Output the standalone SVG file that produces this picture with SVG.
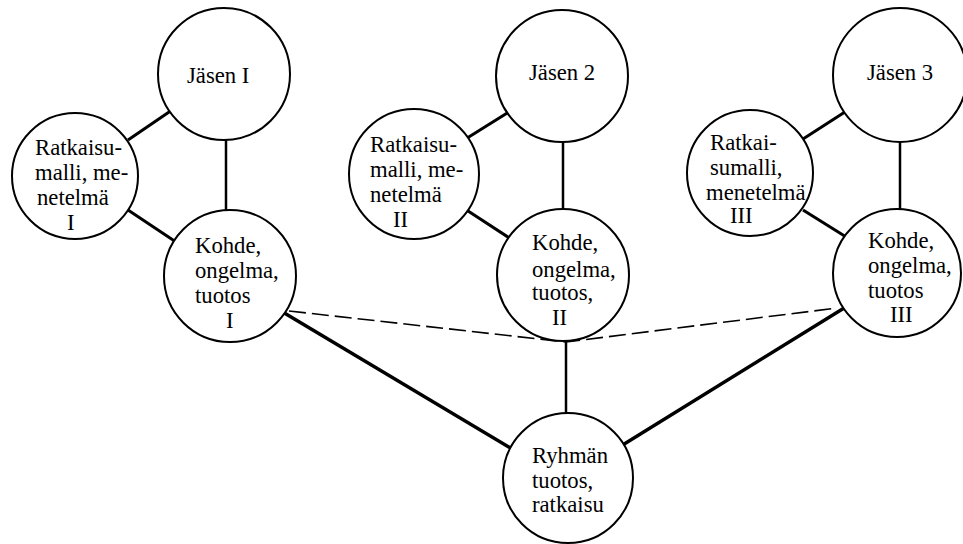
<svg xmlns="http://www.w3.org/2000/svg" width="963" height="544" viewBox="0 0 963 544">
<style>
.n{fill:#fff;stroke:#000;stroke-width:2}
.t{font-family:"Liberation Serif","Times New Roman",serif;font-size:22.7px;fill:#000}
.c{stroke:#000;stroke-width:3;fill:none;stroke-linecap:butt}
.v{stroke:#000;stroke-width:2.5;fill:none}
.l{stroke:#000;stroke-width:3.5;fill:none}
.d{stroke:#000;stroke-width:1.6;fill:none;stroke-dasharray:17 6}
</style>
<rect width="963" height="544" fill="#fff"/>
<g id="connectors">
<line class="c" x1="128" y1="140" x2="172" y2="110"/>
<line class="c" x1="128" y1="210" x2="176" y2="242"/>
<line class="v" x1="226" y1="136" x2="226" y2="214"/>
<line class="c" x1="464" y1="140" x2="512" y2="110"/>
<line class="c" x1="465" y1="209" x2="514" y2="241"/>
<line class="v" x1="563" y1="138" x2="563" y2="212"/>
<line class="c" x1="803" y1="139" x2="848" y2="110"/>
<line class="c" x1="803" y1="210" x2="851" y2="240"/>
<line class="v" x1="900" y1="138" x2="900" y2="211"/>
<line class="l" x1="281" y1="311" x2="512" y2="449"/>
<line class="v" x1="566" y1="340" x2="566" y2="417"/>
<line class="l" x1="849" y1="305" x2="621" y2="446"/>
<polyline class="d" points="289,311 566,342 837,308"/>
</g>
<g id="jasen1"><circle class="n" cx="224" cy="74" r="66"/><text class="t" x="187" y="83">Jäsen I</text></g>
<g id="ratkaisu1"><circle class="n" cx="75" cy="176" r="63"/>
<text class="t" x="35" y="155">Ratkaisu-</text><text class="t" x="35" y="180">malli, me-</text><text class="t" x="37" y="205">netelmä</text><text class="t" x="67" y="230">I</text></g>
<g id="kohde1"><circle class="n" cx="230" cy="276" r="66"/>
<text class="t" x="195" y="253">Kohde,</text><text class="t" x="195" y="278">ongelma,</text><text class="t" x="195" y="303">tuotos</text><text class="t" x="226" y="328">I</text></g>
<g id="jasen2"><circle class="n" cx="562" cy="76" r="66"/><text class="t" x="529" y="80">Jäsen 2</text></g>
<g id="ratkaisu2"><circle class="n" cx="414" cy="174" r="65"/>
<text class="t" x="370" y="152">Ratkaisu-</text><text class="t" x="370" y="177">malli, me-</text><text class="t" x="370" y="202">netelmä</text><text class="t" x="393" y="227">II</text></g>
<g id="kohde2"><circle class="n" cx="563" cy="275" r="66"/>
<text class="t" x="532" y="250">Kohde,</text><text class="t" x="532" y="277">ongelma,</text><text class="t" x="532" y="300">tuotos,</text><text class="t" x="552" y="325">II</text></g>
<g id="jasen3"><circle class="n" cx="900" cy="75" r="67"/><text class="t" x="867" y="80">Jäsen 3</text></g>
<g id="ratkaisu3"><circle class="n" cx="750" cy="173" r="63"/>
<text class="t" x="710" y="150">Ratkai-</text><text class="t" x="710" y="175">sumalli,</text><text class="t" x="706" y="200">menetelmä</text><text class="t" x="730" y="223">III</text></g>
<g id="kohde3"><circle class="n" cx="897" cy="273" r="64"/>
<text class="t" x="868" y="248">Kohde,</text><text class="t" x="868" y="273">ongelma,</text><text class="t" x="868" y="298">tuotos</text><text class="t" x="890" y="322">III</text></g>
<g id="ryhman"><circle class="n" cx="568" cy="478" r="65"/>
<text class="t" x="532" y="463">Ryhmän</text><text class="t" x="532" y="488">tuotos,</text><text class="t" x="532" y="512">ratkaisu</text></g>
</svg>
